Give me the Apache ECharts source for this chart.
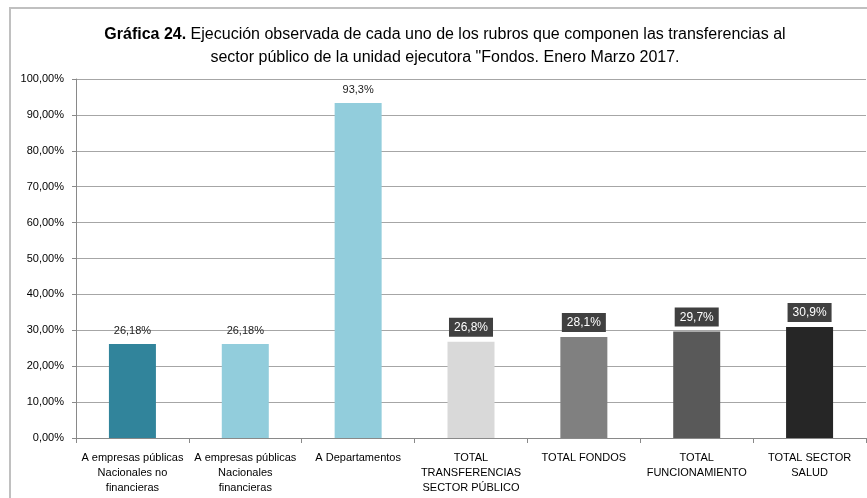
<!DOCTYPE html>
<html>
<head>
<meta charset="utf-8">
<script src="https://cdn.jsdelivr.net/npm/echarts@6/dist/echarts.min.js"></script>
<style>
  body { margin: 0; background: #fff; }
  #chart { width: 867px; height: 498px; }
</style>
</head>
<body>
<div id="chart"></div>
<script>
  var categories = [
    'A empresas públicas\nNacionales no\nfinancieras',
    'A empresas públicas\nNacionales\nfinancieras',
    'A Departamentos',
    'TOTAL\nTRANSFERENCIAS\nSECTOR PÚBLICO',
    'TOTAL FONDOS',
    'TOTAL\nFUNCIONAMIENTO',
    'TOTAL SECTOR\nSALUD'
  ];
  var values = [26.18, 26.18, 93.3, 26.8, 28.1, 29.7, 30.9];
  var labelTexts = ['26,18%', '26,18%', '93,3%', '26,8%', '28,1%', '29,7%', '30,9%'];
  var barColors = ['#31849B', '#92CDDC', '#92CDDC', '#D9D9D9', '#808080', '#595959', '#262626'];
  var boxed = [false, false, false, true, true, true, true];

  var font = '"Liberation Sans Narrow", "Liberation Sans", Arial, sans-serif';

  var chart = echarts.init(document.getElementById('chart'));

  var data = values.map(function (v, i) {
    var lbl = {
      show: true,
      position: 'top',
      distance: boxed[i] ? 5 : 8,
      formatter: labelTexts[i],
      fontFamily: font,
      fontSize: 11,
      color: '#222'
    };
    if (boxed[i]) {
      lbl.backgroundColor = '#404040';
      lbl.color = '#fff';
      lbl.padding = [4, 5, 3, 5];
      lbl.fontSize = 12;
    }
    return { value: v, itemStyle: { color: barColors[i] }, label: lbl };
  });

  chart.setOption({
    animation: false,
    title: {
      text: '{b|Gráfica 24.} Ejecución observada de cada uno de los rubros que componen las transferencias al\nsector público de la unidad ejecutora "Fondos. Enero Marzo 2017.',
      left: 440,
      textAlign: 'center',
      top: 18,
      textStyle: {
        fontFamily: font,
        fontSize: 16,
        fontWeight: 'normal',
        color: '#000',
        lineHeight: 23,
        rich: {
          b: { fontFamily: font, fontSize: 16, fontWeight: 'bold', color: '#000' }
        }
      }
    },
    graphic: [{
      type: 'polyline',
      shape: { points: [[10, 498], [10, 8], [867, 8]] },
      style: { stroke: '#c0c0c0', lineWidth: 2, fill: null }
    }],
    grid: { left: 76, right: 1, top: 79, bottom: 60 },
    xAxis: {
      type: 'category',
      data: categories,
      axisLine: { lineStyle: { color: '#898989' } },
      axisTick: { show: true, length: 5, lineStyle: { color: '#898989' } },
      axisLabel: {
        interval: 0,
        margin: 12,
        fontFamily: font,
        fontSize: 11,
        lineHeight: 15,
        color: '#000'
      }
    },
    yAxis: {
      type: 'value',
      min: 0,
      max: 100,
      interval: 10,
      axisLine: { show: true, lineStyle: { color: '#898989' } },
      axisTick: { show: true, length: 4, lineStyle: { color: '#898989' } },
      splitLine: { lineStyle: { color: '#a6a6a6' } },
      axisLabel: {
        margin: 12,
        fontFamily: font,
        fontSize: 11,
        color: '#000',
        formatter: function (v) { return v.toFixed(2).replace('.', ',') + '%'; }
      }
    },
    series: [{
      type: 'bar',
      data: data,
      barWidth: 47
    }]
  });
</script>
</body>
</html>
